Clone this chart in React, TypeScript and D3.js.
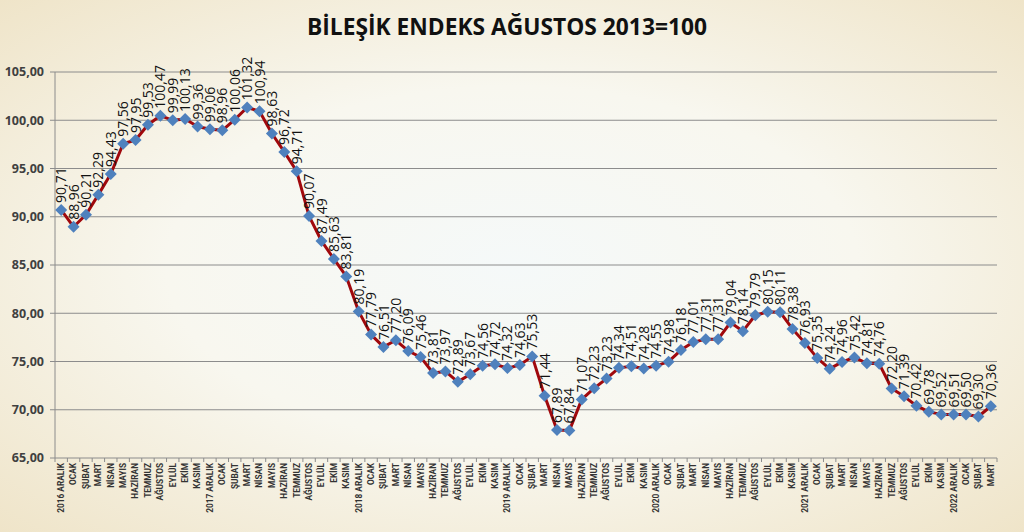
import React from "react";
import * as d3 from "d3";

const months: string[] = [
  "2016 ARALIK", "OCAK", "ŞUBAT", "MART", "NİSAN", "MAYIS", "HAZİRAN", "TEMMUZ", "AĞUSTOS", "EYLÜL", "EKİM", "KASIM",
  "2017 ARALIK", "OCAK", "ŞUBAT", "MART", "NİSAN", "MAYIS", "HAZİRAN", "TEMMUZ", "AĞUSTOS", "EYLÜL", "EKİM", "KASIM",
  "2018 ARALIK", "OCAK", "ŞUBAT", "MART", "NİSAN", "MAYIS", "HAZİRAN", "TEMMUZ", "AĞUSTOS", "EYLÜL", "EKİM", "KASIM",
  "2019 ARALIK", "OCAK", "ŞUBAT", "MART", "NİSAN", "MAYIS", "HAZİRAN", "TEMMUZ", "AĞUSTOS", "EYLÜL", "EKİM", "KASIM",
  "2020 ARALIK", "OCAK", "ŞUBAT", "MART", "NİSAN", "MAYIS", "HAZİRAN", "TEMMUZ", "AĞUSTOS", "EYLÜL", "EKİM", "KASIM",
  "2021 ARALIK", "OCAK", "ŞUBAT", "MART", "NİSAN", "MAYIS", "HAZİRAN", "TEMMUZ", "AĞUSTOS", "EYLÜL", "EKİM", "KASIM",
  "2022 ARALIK", "OCAK", "ŞUBAT", "MART",
];

const values: number[] = [
  90.71, 88.96, 90.21, 92.29, 94.43, 97.56, 97.95, 99.53, 100.47, 99.99, 100.13, 99.36,
  99.06, 98.96, 100.06, 101.32, 100.94, 98.63, 96.72, 94.71, 90.07, 87.49, 85.63, 83.81,
  80.19, 77.79, 76.51, 77.2, 76.09, 75.46, 73.81, 73.97, 72.89, 73.67, 74.56, 74.72,
  74.32, 74.63, 75.53, 71.44, 67.89, 67.84, 71.07, 72.23, 73.23, 74.34, 74.51, 74.28,
  74.55, 74.98, 76.18, 77.01, 77.31, 77.31, 79.04, 78.14, 79.79, 80.15, 80.11, 78.38,
  76.93, 75.35, 74.24, 74.96, 75.42, 74.81, 74.76, 72.2, 71.39, 70.42, 69.78, 69.52,
  69.51, 69.5, 69.3, 70.36,
];

const yTicks: number[] = [65, 70, 75, 80, 85, 90, 95, 100, 105];
const title = "BİLEŞİK ENDEKS AĞUSTOS 2013=100";

const W = 1024;
const H = 532;
const left = 55;
const right = 997;
const top = 72;
const bottom = 458;

const fmt = (v: number) => v.toFixed(2).replace(".", ",");

export default function App() {
  const x = d3
    .scaleBand<number>()
    .domain(d3.range(values.length))
    .range([left, right])
    .paddingInner(0)
    .paddingOuter(0);
  const y = d3.scaleLinear().domain([65, 105]).range([bottom, top]);
  const cx = (i: number) => (x(i) as number) + x.bandwidth() / 2;

  const line = d3
    .line<number>()
    .x((_, i) => cx(i))
    .y((d) => y(d));

  const boundaries = d3.range(values.length + 1).map((i) => left + i * x.bandwidth());
  const r = 6;
  const diamond = `M0,${-r}L${r},0L0,${r}L${-r},0Z`;

  return (
    <svg
      width={W}
      height={H}
      style={{ position: "absolute", left: 0, top: 0 }}
      xmlns="http://www.w3.org/2000/svg"
    >
      <defs>
        <radialGradient id="bg" cx="50%" cy="50%" r="75%">
          <stop offset="0%" stopColor="#f5f9f9" />
          <stop offset="45%" stopColor="#f8f7ef" />
          <stop offset="100%" stopColor="#eee2c4" />
        </radialGradient>
      </defs>
      <rect x={0} y={0} width={W} height={H} fill="url(#bg)" />

      <text
        x={507}
        y={35}
        textAnchor="middle"
        fontFamily="'Open Sans', sans-serif"
        fontWeight="bold"
        fontSize={23}
        fill="#111"
        textLength={400}
        lengthAdjust="spacingAndGlyphs"
      >
        {title}
      </text>

      {yTicks.map((t) => (
        <g key={t}>
          {t !== 65 && (
            <line x1={left} x2={right} y1={y(t)} y2={y(t)} stroke="#8c8c8c" strokeWidth={1} />
          )}
          <line x1={left - 5} x2={left} y1={y(t)} y2={y(t)} stroke="#8c8c8c" strokeWidth={1} />
          <text
            x={44}
            y={y(t)}
            dy="0.35em"
            textAnchor="end"
            fontFamily="'Open Sans', sans-serif"
            fontWeight="bold"
            fontSize={12.5}
            fill="#404040"
          >
            {fmt(t)}
          </text>
        </g>
      ))}

      <line x1={left} x2={left} y1={top} y2={bottom} stroke="#8c8c8c" strokeWidth={1} />
      <line x1={left} x2={right} y1={bottom} y2={bottom} stroke="#8c8c8c" strokeWidth={1} />
      {boundaries.map((bx, i) => (
        <line key={i} x1={bx} x2={bx} y1={bottom} y2={bottom + 4} stroke="#8c8c8c" strokeWidth={1} />
      ))}

      {months.map((m, i) => (
        <text
          key={i}
          transform={`translate(${cx(i)},${bottom + 5}) rotate(-90)`}
          textAnchor="end"
          dy="0.35em"
          fontFamily="Roboto, sans-serif"
          fontWeight="bold"
          fontSize={8.3}
          fill="#333"
        >
          {m}
        </text>
      ))}

      <path d={line(values) || ""} fill="none" stroke="#a0080c" strokeWidth={3} strokeLinejoin="round" />

      {values.map((v, i) => (
        <path key={i} d={diamond} transform={`translate(${cx(i)},${y(v)})`} fill="#4f81bd" />
      ))}

      {values.map((v, i) => (
        <text
          key={i}
          transform={`translate(${cx(i)},${y(v) - 7}) rotate(-90)`}
          textAnchor="start"
          dy="0.36em"
          fontFamily="'Open Sans', sans-serif"
          fontSize={14}
          fill="#111"
        >
          {fmt(v)}
        </text>
      ))}
    </svg>
  );
}
